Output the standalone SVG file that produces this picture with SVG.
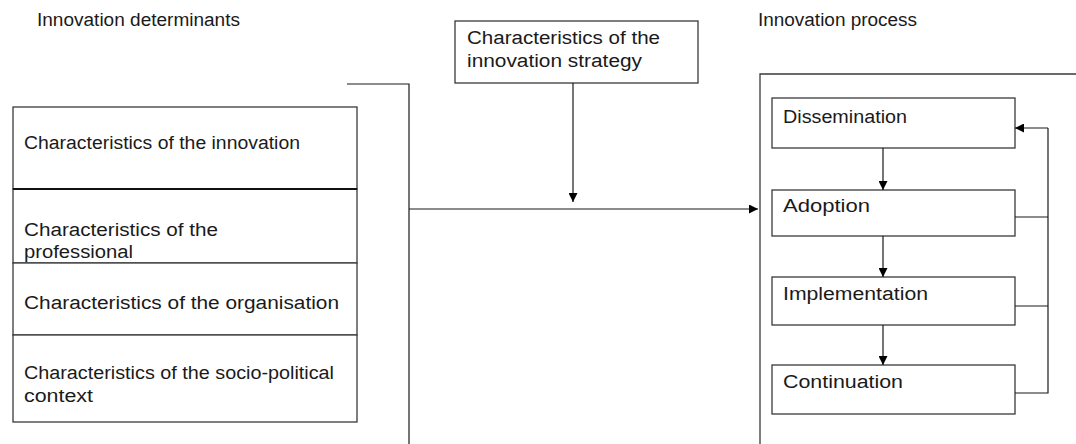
<svg xmlns="http://www.w3.org/2000/svg" width="1076" height="444" viewBox="0 0 1076 444">
<style>
  .box { fill: #ffffff; stroke: #3a3a3a; stroke-width: 1.3; }
  .ln { fill: none; stroke: #1a1a1a; stroke-width: 1.2; }
  .t { font-family: "Liberation Sans", Arial, sans-serif; font-size: 18px; fill: #1a1a1a; }
  .h { font-family: "Liberation Sans", Arial, sans-serif; font-size: 18px; fill: #1a1a1a; }
</style>
<defs>
  <marker id="ah" viewBox="0 0 10 10" refX="10" refY="5" markerWidth="9" markerHeight="9" markerUnits="userSpaceOnUse" orient="auto">
    <path d="M0,0 L10,5 L0,10 Z" fill="#000"/>
  </marker>
</defs>
<rect width="1076" height="444" fill="#ffffff"/>

<g id="headings">
  <text class="h" x="37" y="26" textLength="203" lengthAdjust="spacingAndGlyphs">Innovation determinants</text>
  <text class="h" x="758" y="26" textLength="159" lengthAdjust="spacingAndGlyphs">Innovation process</text>
</g>

<g id="determinants-bracket">
  <path class="ln" d="M347,84 H409 V444"/>
</g>

<g id="det-innovation">
  <rect class="box" x="13" y="107" width="344" height="82"/>
  <text class="t" x="24" y="149" textLength="276" lengthAdjust="spacingAndGlyphs">Characteristics of the innovation</text>
</g>
<g id="det-professional">
  <rect class="box" x="13" y="189" width="344" height="74"/>
  <line x1="13" y1="189" x2="357" y2="189" stroke="#111" stroke-width="2"/>
  <text class="t" x="24" y="236" textLength="194" lengthAdjust="spacingAndGlyphs">Characteristics of the</text>
  <text class="t" x="24" y="258" textLength="109" lengthAdjust="spacingAndGlyphs">professional</text>
</g>
<g id="det-organisation">
  <rect class="box" x="13" y="263" width="344" height="72"/>
  <text class="t" x="24" y="309" textLength="315" lengthAdjust="spacingAndGlyphs">Characteristics of the organisation</text>
</g>
<g id="det-sociopolitical">
  <rect class="box" x="13" y="335" width="344" height="87"/>
  <text class="t" x="24" y="379" textLength="310" lengthAdjust="spacingAndGlyphs">Characteristics of the socio-political</text>
  <text class="t" x="24" y="402" textLength="69" lengthAdjust="spacingAndGlyphs">context</text>
</g>

<g id="strategy">
  <rect class="box" x="455" y="21" width="243" height="62"/>
  <text class="t" x="467" y="44" textLength="193" lengthAdjust="spacingAndGlyphs">Characteristics of the</text>
  <text class="t" x="467" y="67" textLength="175" lengthAdjust="spacingAndGlyphs">innovation strategy</text>
</g>

<g id="process-frame">
  <path class="box" d="M1080,74 H760 V450" style="fill:none"/>
</g>

<g id="dissemination">
  <rect class="box" x="772" y="98" width="243" height="50"/>
  <text class="t" x="783" y="123" textLength="124" lengthAdjust="spacingAndGlyphs">Dissemination</text>
</g>
<g id="adoption">
  <rect class="box" x="772" y="190" width="243" height="46"/>
  <text class="t" x="783" y="212" textLength="87" lengthAdjust="spacingAndGlyphs">Adoption</text>
</g>
<g id="implementation">
  <rect class="box" x="772" y="277" width="243" height="48"/>
  <text class="t" x="783" y="300" textLength="145" lengthAdjust="spacingAndGlyphs">Implementation</text>
</g>
<g id="continuation">
  <rect class="box" x="772" y="365" width="243" height="49"/>
  <text class="t" x="783" y="388" textLength="120" lengthAdjust="spacingAndGlyphs">Continuation</text>
</g>

<g id="connectors">
  <path class="ln" d="M573,83 V202" marker-end="url(#ah)"/>
  <path class="ln" d="M409,209 H758" marker-end="url(#ah)"/>
  <path class="ln" d="M883,148 V190" marker-end="url(#ah)"/>
  <path class="ln" d="M883,236 V277" marker-end="url(#ah)"/>
  <path class="ln" d="M883,325 V365" marker-end="url(#ah)"/>
  <path class="ln" d="M1015,393 H1048 V128"/>
  <path class="ln" d="M1015,217 H1048"/>
  <path class="ln" d="M1015,306 H1048"/>
  <path class="ln" d="M1048,128 H1015" marker-end="url(#ah)"/>
</g>
</svg>
